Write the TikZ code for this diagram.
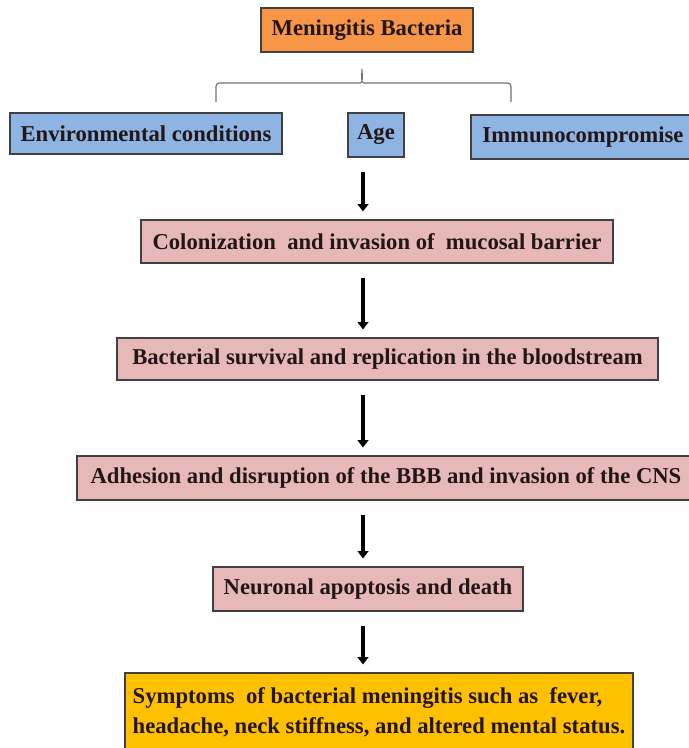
\documentclass[tikz,border=0pt]{standalone}
\usepackage{fontspec}
\setmainfont{Liberation Serif}
\usepackage{tikz}
\usetikzlibrary{arrows.meta, positioning, calc}
\definecolor{boxorange}{RGB}{247,150,70}
\definecolor{boxblue}{RGB}{141,180,226}
\definecolor{boxpink}{RGB}{230,185,184}
\definecolor{boxgold}{RGB}{255,192,0}
\definecolor{inkdark}{RGB}{35,22,22}
\tikzset{
  basebox/.style={rectangle,draw=black!75,line width=0.8pt,align=center,inner sep=0pt,text=inkdark,font=\fontsize{17}{20}\selectfont\bfseries},
  topnode/.style={basebox,fill=boxorange},
  causenode/.style={basebox,fill=boxblue},
  stepnode/.style={basebox,fill=boxpink},
  endnode/.style={basebox,fill=boxgold,align=left,font=\fontsize{17}{22.5}\selectfont\bfseries},
  arr/.style={-{Triangle[width=8pt,length=5.5pt]},line width=2.6pt,color=black,shorten <=11pt,shorten >=6pt},
  bracket/.style={draw=black!55,line width=0.9pt,rounded corners=2.5pt}
}

\begin{document}
\begin{tikzpicture}[x=0.75pt,y=-0.75pt]
  \fill[white] (0,0) rectangle (688,748);
  \useasboundingbox (0,0) rectangle (688,748);

  %% Cause
  \node[topnode,minimum width=159pt,minimum height=33pt] (meningitis) at (367,30) {Meningitis Bacteria};

  %% Risk factors
  \node[causenode,minimum width=204pt,minimum height=30.75pt] (envcond) at (146,133.5) {Environmental conditions};
  \node[causenode,minimum width=42pt,minimum height=33pt] (age) at (376,135) {Age};
  \node[causenode,minimum width=168pt,minimum height=33pt] (immuno) at (583,137) {Immunocompromise};

  %% Brace
  \coordinate (braceL) at (216,102);
  \coordinate (braceR) at (511,102);
  \coordinate (bracetip) at (362,67);
  \draw[bracket] (braceL) -- (216,83) -- (357,83) to[out=0,in=-90] (bracetip) to[out=-90,in=180] (367,83) -- (511,83) -- (braceR);

  %% Steps
  \node[stepnode,minimum width=354pt,minimum height=32.25pt] (colonize) at (377,241.5) {Colonization\ \ and invasion of\ \ mucosal barrier};
  \node[stepnode,minimum width=405.75pt,minimum height=31.5pt] (survival) at (387.5,359) {Bacterial survival and replication in the bloodstream};
  \node[stepnode,minimum width=463.5pt,minimum height=33pt] (adhesion) at (386,478) {Adhesion and disruption of the BBB and invasion of the CNS};
  \node[stepnode,minimum width=232.5pt,minimum height=33pt] (apoptosis) at (368,589) {Neuronal apoptosis and death};

  %% Outcome
  \node[endnode,minimum width=381pt,minimum height=59.25pt] (symptoms) at (379,712.5) {Symptoms\ \ of bacterial meningitis such as\ \ fever,\\headache, neck stiffness, and altered mental status.};

  %% Arrows
  \coordinate (spine) at (363,0);
  \draw[arr] (age.south -| spine) -- (colonize.north -| spine);
  \draw[arr] (colonize.south -| spine) -- (survival.north -| spine);
  \draw[arr] (survival.south -| spine) -- (adhesion.north -| spine);
  \draw[arr] (adhesion.south -| spine) -- (apoptosis.north -| spine);
  \draw[arr] (apoptosis.south -| spine) -- (symptoms.north -| spine);
\end{tikzpicture}
\end{document}
